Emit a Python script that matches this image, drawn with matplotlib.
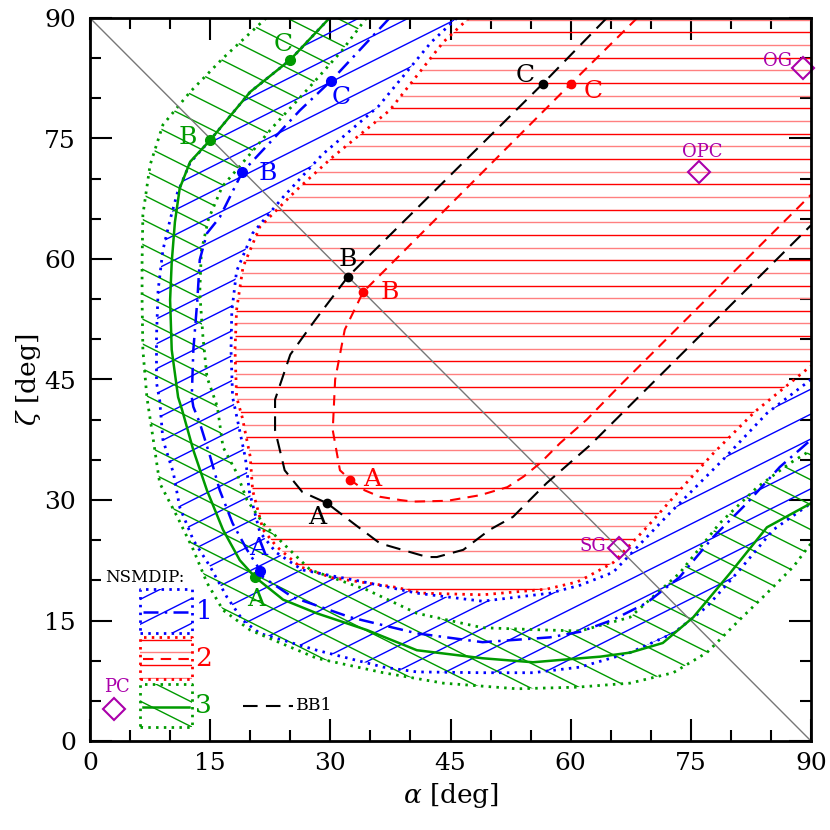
import numpy as np
import matplotlib
matplotlib.use("Agg")
import matplotlib.pyplot as plt
from matplotlib.patches import Polygon
from matplotlib.collections import LineCollection
from matplotlib.ticker import MultipleLocator

# ---- data (alpha, zeta in degrees) ----
# NSMDIP 2 region edge (red, dotted)
red_a = [47.3, 44.1, 37.4, 30.3, 25.8, 21.2, 19.1, 18.3, 18.1, 18.3, 19.0, 20.0, 20.3, 21.6, 23.3, 26.2,
         30.3, 37.8, 41.6, 49.0, 57.0, 60.8, 62.0, 65.3, 69.5, 73.6, 77.8, 83.0, 87.8, 90.0]
red_z = [90.0, 87.0, 78.5, 72.7, 68.6, 64.0, 59.0, 53.7, 48.7, 42.8, 40.3, 35.4, 31.2, 26.3, 24.2, 21.7,
         20.3, 19.2, 18.4, 18.2, 18.9, 19.8, 20.4, 22.2, 26.6, 31.2, 35.8, 41.0, 44.9, 46.7]

# NSMDIP 1 region edges (blue, dotted)
blue_out_a = [29.9, 25.0, 20.0, 15.0, 12.5, 10.9, 10.0, 9.1, 8.5, 8.3, 8.3, 8.7, 9.1, 10.4, 11.2, 12.9, 15.0,
              17.1, 19.1, 21.2, 28.3, 36.6, 40.8, 49.0, 55.3, 61.2, 67.4, 72.8, 77.0, 81.1, 85.3, 90.0]
blue_out_z = [90.0, 84.8, 80.8, 74.8, 72.0, 68.2, 64.9, 61.1, 56.1, 50.3, 44.6, 42.4, 37.5, 33.4, 29.1, 25.0, 21.7,
              17.9, 15.0, 13.4, 11.3, 9.2, 8.6, 8.5, 8.5, 9.2, 11.0, 13.4, 16.7, 21.3, 26.3, 29.6]
blue_in_a = [45.8, 42.6, 36.0, 29.0, 24.1, 20.3, 18.3, 17.7, 17.6, 17.8, 18.4, 19.4, 19.9, 21.2, 23.2, 26.5,
             30.5, 33.7, 40.8, 49.0, 57.4, 61.2, 65.3, 72.4, 79.0, 84.5, 90.0]
blue_in_z = [90.0, 87.0, 79.0, 73.0, 67.7, 63.2, 58.5, 53.5, 48.7, 42.8, 40.0, 35.2, 31.0, 26.0, 23.5, 21.3,
             20.5, 19.9, 18.4, 17.4, 18.4, 19.4, 21.0, 28.4, 35.0, 40.8, 45.0]

# NSMDIP 3 region edges (green, dotted)
green_out_a = [22.0, 16.6, 12.5, 9.1, 7.5, 6.6, 6.5, 6.5, 6.6, 7.1, 7.9, 8.7, 10.9, 12.9, 14.6, 16.6, 20.0,
               28.3, 36.6, 44.1, 53.3, 60.8, 67.4, 72.8, 77.0, 81.1, 84.5, 87.8, 90.0]
green_out_z = [90.0, 85.0, 80.8, 76.7, 71.7, 65.5, 59.6, 54.9, 48.7, 42.8, 37.5, 32.1, 27.9, 23.8, 19.7, 16.3, 13.8,
               10.3, 8.5, 7.2, 6.5, 6.7, 7.2, 8.5, 11.0, 15.1, 18.4, 21.7, 24.6]
green_in_a = [34.5, 31.5, 27.5, 22.8, 19.5, 16.5, 14.8, 13.9, 13.7, 14.1, 14.6, 15.9, 16.6, 18.3, 19.6, 21.6, 24.1,
              27.5, 34.6, 40.8, 49.0, 57.4, 61.2, 67.4, 73.6, 78.6, 83.3, 87.4, 90.0]
green_in_z = [90.0, 86.0, 81.5, 76.4, 72.5, 69.0, 65.0, 61.0, 55.8, 50.3, 45.3, 41.6, 36.6, 33.4, 30.0, 27.1, 24.6,
              21.3, 18.8, 15.9, 14.1, 13.8, 13.7, 15.4, 20.9, 27.1, 31.6, 34.6, 36.2]

# central curves
green_a = [29.9, 25.0, 20.0, 15.0, 12.5, 11.2, 10.6, 10.2, 10.0, 10.2, 11.0, 11.5, 12.9, 14.6, 16.6, 18.7, 20.6,
           24.1, 28.3, 34.6, 40.8, 49.0, 55.3, 61.2, 63.7, 67.4, 71.5, 75.3, 79.9, 84.5, 90.0]
green_z = [90.0, 84.8, 80.8, 74.8, 72.1, 68.8, 64.6, 59.6, 54.9, 48.7, 42.8, 41.2, 36.2, 31.2, 26.3, 22.5, 20.4,
           17.6, 15.9, 13.8, 11.3, 10.3, 9.8, 10.3, 10.5, 11.0, 12.2, 15.4, 20.9, 26.6, 29.6]
bdash_a = [37.4, 30.1, 26.2, 19.0, 16.2, 14.6, 13.7, 13.4, 12.9, 12.7, 12.9, 13.7, 15.0, 16.2, 17.8, 19.6, 21.2,
           21.6, 25.3, 32.5, 40.8, 49.0, 57.4, 61.2, 65.3, 69.5, 73.6, 77.8, 82.0, 86.1, 90.0]
bdash_z = [90.0, 82.2, 78.5, 70.8, 65.2, 63.2, 59.9, 54.9, 48.7, 42.8, 41.6, 39.6, 35.4, 31.2, 27.1, 23.8, 21.3,
           20.4, 17.9, 15.4, 13.4, 12.3, 12.9, 13.6, 15.1, 17.2, 20.4, 25.4, 29.6, 34.1, 37.5]
rdash_a = [68.3, 60.0, 34.1, 31.8, 30.6, 30.3, 31.2, 32.5, 34.3, 36.2, 38.7, 40.3, 44.6, 48.7, 52.1, 54.1, 56.2,
           58.7, 62.0, 66.0, 90.0]
rdash_z = [90.0, 81.8, 55.9, 51.2, 45.0, 38.7, 33.7, 32.5, 31.2, 30.4, 30.0, 29.8, 29.9, 30.6, 31.6, 32.9, 34.6,
           37.1, 40.0, 44.1, 68.0]
bb1_a = [64.5, 56.5, 32.2, 28.1, 25.0, 23.1, 23.1, 24.3, 26.5, 29.6, 33.0, 36.2, 42.1, 43.3, 46.6, 49.9, 52.8,
         57.0, 62.4, 90.0]
bb1_z = [90.0, 81.8, 57.8, 52.4, 48.1, 42.5, 38.7, 33.7, 31.0, 29.6, 27.0, 24.6, 22.9, 22.9, 23.8, 26.3, 27.9,
         32.1, 36.8, 64.2]

# marked points A, B, C on each curve
pt_labels = ["A", "B", "C"]
green_pts_a, green_pts_z = [20.6, 15.0, 25.0], [20.4, 74.8, 84.8]
blue_pts_a, blue_pts_z = [21.2, 19.0, 30.1], [21.2, 70.8, 82.2]
red_pts_a, red_pts_z = [32.5, 34.1, 60.0], [32.5, 55.9, 81.8]
bb1_pts_a, bb1_pts_z = [29.6, 32.2, 56.5], [29.6, 57.8, 81.8]

# observed objects
obj_names = ["OG", "OPC", "SG", "PC"]
obj_a = [89.0, 76.0, 66.0, 3.0]
obj_z = [83.8, 70.8, 24.0, 4.0]

BLUE, RED, GREEN, MAG = "#0000ff", "#ff0000", "#009a00", "#aa00aa"
DOT = (0, (0.9, 1.9))

plt.rcParams["font.family"] = "DejaVu Serif"
plt.rcParams["mathtext.fontset"] = "dejavuserif"

fig = plt.figure(figsize=(8.3, 8.3), dpi=100)
ax = fig.add_axes([90 / 830, 89 / 830, 721 / 830, 723 / 830])


def hatch(poly, slope, step, offset, colors, lw=1.0):
    patch = Polygon(poly, closed=True, fill=False, edgecolor="none")
    ax.add_patch(patch)
    corners = [(-5, -5), (-5, 95), (95, -5), (95, 95)]
    cvals = [z - slope * a for a, z in corners]
    k0 = int(np.floor((min(cvals) - offset) / step))
    k1 = int(np.ceil((max(cvals) - offset) / step))
    segs = []
    for k in range(k0, k1 + 1):
        c = offset + k * step
        segs.append([(-5, slope * -5 + c), (95, slope * 95 + c)])
    lc = LineCollection(segs, colors=colors, linewidths=lw)
    lc.set_clip_path(patch)
    ax.add_collection(lc)


# hatched regions
red_poly = list(zip(red_a, red_z)) + [(90, 90)]
blue_poly = list(zip(blue_out_a, blue_out_z)) + list(zip(blue_in_a, blue_in_z))[::-1]
green_poly = list(zip(green_out_a, green_out_z)) + list(zip(green_in_a, green_in_z))[::-1]
hatch(red_poly, 0.0, 1.575, 18.9, [RED, "#ff8080"])
hatch(blue_poly, 0.5, 3.1, -10.5, [BLUE])
hatch(green_poly, -0.5, 3.1, 0.0, [GREEN])

# region edges
ax.plot(red_a, red_z, color=RED, ls=DOT, lw=2.0)
ax.plot(blue_out_a, blue_out_z, color=BLUE, ls=DOT, lw=2.0)
ax.plot(blue_in_a, blue_in_z, color=BLUE, ls=DOT, lw=2.0)
ax.plot(green_out_a, green_out_z, color=GREEN, ls=DOT, lw=2.0)
ax.plot(green_in_a, green_in_z, color=GREEN, ls=DOT, lw=2.0)

# diagonal
ax.plot([0, 90], [90, 0], color="#777777", lw=1.0)

# curves
ax.plot(green_a, green_z, color=GREEN, lw=1.8)
ax.plot(bdash_a, bdash_z, color=BLUE, lw=1.8, ls=(0, (6, 2.5, 1, 2.5)))
ax.plot(rdash_a, rdash_z, color=RED, lw=1.5, ls=(0, (5, 3.5)))
ax.plot(bb1_a, bb1_z, color="black", lw=1.5, ls=(0, (7, 4)))

# points and labels
ax.plot(green_pts_a, green_pts_z, "o", color=GREEN, ms=7)
ax.plot(blue_pts_a, blue_pts_z, "o", color=BLUE, ms=7)
ax.plot(red_pts_a, red_pts_z, "o", color=RED, ms=6)
ax.plot(bb1_pts_a, bb1_pts_z, "o", color="black", ms=6)

lab_kw = dict(fontsize=18, ha="center", va="center")
green_lab = [(20.8, 17.6), (12.2, 75.1), (24.1, 86.7)]
blue_lab = [(21.0, 24.0), (22.2, 70.7), (31.3, 80.1)]
red_lab = [(35.2, 32.6), (37.4, 55.8), (62.8, 80.8)]
bb1_lab = [(28.3, 27.8), (32.2, 60.0), (54.3, 82.9)]
for labs, col in [(green_lab, GREEN), (blue_lab, BLUE), (red_lab, RED), (bb1_lab, "black")]:
    for name, (x, y) in zip(pt_labels, labs):
        ax.text(x, y, name, color=col, **lab_kw)

# observed objects
ax.plot(obj_a, obj_z, "D", ms=11, mfc="none", mec=MAG, mew=1.5, clip_on=False)
obj_lab = [(85.8, 84.6), (76.4, 73.3), (62.8, 24.3), (3.4, 6.7)]
for name, (x, y) in zip(obj_names, obj_lab):
    ax.text(x, y, name, color=MAG, fontsize=13, ha="center", va="center")

# legend block
ax.text(1.9, 20.4, "NSMDIP:", fontsize=12, ha="left", va="center")
boxes = [(13.4, 18.9, BLUE, "1"), (7.7, 12.9, RED, "2"), (1.7, 7.1, GREEN, "3")]
for z0, z1, col, num in boxes:
    rect = [(6.2, z0), (12.7, z0), (12.7, z1), (6.2, z1)]
    if col == BLUE:
        hatch(rect, 0.5, 3.1, -1.0, [BLUE])
        ax.plot([6.6, 12.4], [16.1, 16.1], color=BLUE, lw=1.8, ls=(0, (6, 2.5, 1, 2.5)))
    elif col == RED:
        hatch(rect, 0.0, 1.575, 18.9, [RED, "#ff8080"])
        ax.plot([6.6, 12.4], [10.2, 10.2], color=RED, lw=1.5, ls=(0, (5, 3.5)))
    else:
        hatch(rect, -0.5, 3.1, 5.0, [GREEN])
        ax.plot([6.6, 12.4], [4.2, 4.2], color=GREEN, lw=1.8)
    ax.plot([p[0] for p in rect] + [rect[0][0]], [p[1] for p in rect] + [rect[0][1]],
            color=col, ls=DOT, lw=2.0)
    ax.text(14.2, (z0 + z1) / 2, num, color=col, fontsize=19, ha="center", va="center")
ax.plot([19.1, 25.3], [4.4, 4.4], color="black", lw=1.5, ls=(0, (7, 4)))
ax.text(25.7, 4.4, "BB1", fontsize=12.5, ha="left", va="center")

# axes
ax.set_xlim(0, 90)
ax.set_ylim(0, 90)
ax.set_xticks(np.arange(0, 91, 15))
ax.set_yticks(np.arange(0, 91, 15))
ax.xaxis.set_minor_locator(MultipleLocator(5))
ax.yaxis.set_minor_locator(MultipleLocator(5))
ax.tick_params(which="both", direction="in", top=True, right=True, width=1.5, labelsize=18)
ax.tick_params(which="major", length=16)
ax.tick_params(which="minor", length=8)
ax.tick_params(axis="x", pad=8)
ax.tick_params(axis="y", pad=10)
for s in ax.spines.values():
    s.set_linewidth(2)
ax.set_xlabel(r"$\alpha$ [deg]", fontsize=19, labelpad=4)
ax.set_ylabel(r"$\zeta$ [deg]", fontsize=19, labelpad=1)

fig.savefig("out.png", dpi=100)
